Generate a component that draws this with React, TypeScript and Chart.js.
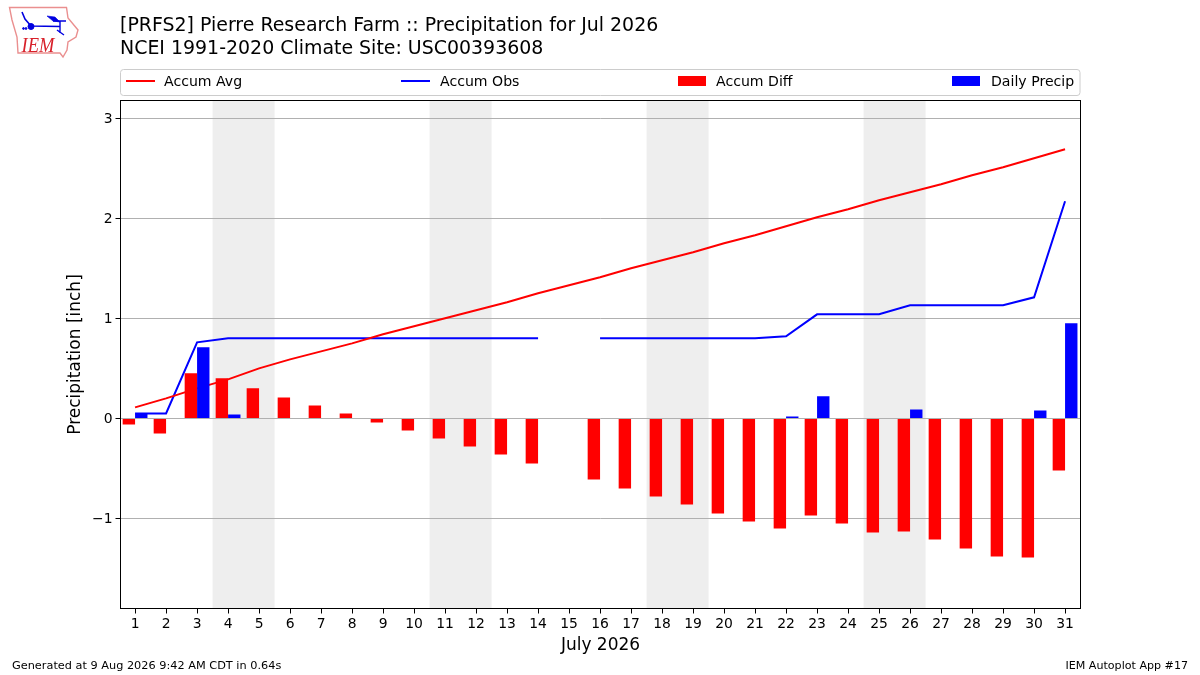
import { useEffect, useRef } from "react"
import { Chart, registerables } from "chart.js"

Chart.register(...registerables)

const FONT = "'DejaVu Sans'"

const DAYS = [1, 2, 3, 4, 5, 6, 7, 8, 9, 10, 11, 12, 13, 14, 15, 16, 17, 18, 19, 20, 21, 22, 23, 24, 25, 26, 27, 28, 29, 30, 31]

const ACCUM_AVG = [0.11, 0.2, 0.3, 0.39, 0.5, 0.59, 0.67, 0.75, 0.84, 0.92, 1.0, 1.08, 1.16, 1.25, 1.33, 1.41, 1.5, 1.58, 1.66, 1.75, 1.83, 1.92, 2.01, 2.09, 2.18, 2.26, 2.34, 2.43, 2.51, 2.6, 2.69]
const ACCUM_OBS = [0.05, 0.05, 0.76, 0.8, 0.8, 0.8, 0.8, 0.8, 0.8, 0.8, 0.8, 0.8, 0.8, 0.8, null, 0.8, 0.8, 0.8, 0.8, 0.8, 0.8, 0.82, 1.04, 1.04, 1.04, 1.13, 1.13, 1.13, 1.13, 1.21, 2.17]
const ACCUM_DIFF = [-0.06, -0.15, 0.45, 0.4, 0.3, 0.21, 0.13, 0.05, -0.04, -0.12, -0.2, -0.28, -0.36, -0.45, null, -0.61, -0.7, -0.78, -0.86, -0.95, -1.03, -1.1, -0.97, -1.05, -1.14, -1.13, -1.21, -1.3, -1.38, -1.39, -0.52]
const DAILY_PRECIP = [0.05, 0, 0.71, 0.04, 0, 0, 0, 0, 0, 0, 0, 0, 0, 0, null, 0, 0, 0, 0, 0, 0, 0.02, 0.22, 0, 0, 0.09, 0, 0, 0, 0.08, 0.95]

const Y_TICKS = [-1, 0, 1, 2, 3]
const WEEKENDS = [[3.5, 5.5], [10.5, 12.5], [17.5, 19.5], [24.5, 26.5]]

const TITLE_LINES = ["[PRFS2] Pierre Research Farm :: Precipitation for Jul 2026", "NCEI 1991-2020 Climate Site: USC00393608"]
const FOOTER_LEFT = "Generated at 9 Aug 2026 9:42 AM CDT in 0.64s"
const FOOTER_RIGHT = "IEM Autoplot App #17"

const toPoints = (values: (number | null)[]) => DAYS.map((d, i) => ({ x: d, y: values[i] }))

// shaded weekends sit under the grid lines
const weekendBands = {
  id: "weekendBands",
  beforeDraw(chart: any) {
    const { ctx, chartArea, scales } = chart
    ctx.save()
    ctx.fillStyle = "#eeeeee"
    WEEKENDS.forEach(([a, b]) => {
      const x0 = scales.x.getPixelForValue(a)
      const x1 = scales.x.getPixelForValue(b)
      ctx.fillRect(x0, chartArea.top, x1 - x0, chartArea.bottom - chartArea.top)
    })
    ctx.restore()
  },
}

// title, legend box, frame and footer are laid out like the matplotlib figure
const figureText = {
  id: "figureText",
  afterDraw(chart: any) {
    const { ctx, chartArea } = chart
    ctx.save()

    ctx.strokeStyle = "#000000"
    ctx.lineWidth = 1
    ctx.strokeRect(chartArea.left, chartArea.top, chartArea.right - chartArea.left, chartArea.bottom - chartArea.top)

    ctx.fillStyle = "#000000"
    ctx.textBaseline = "alphabetic"
    ctx.textAlign = "left"
    ctx.font = `18.95px ${FONT}`
    ctx.fillText(TITLE_LINES[0], 120, 31)
    ctx.fillText(TITLE_LINES[1], 120, 54)

    ctx.strokeStyle = "#cccccc"
    ctx.beginPath()
    ctx.roundRect(120.5, 69.5, 959.5, 26, 3)
    ctx.stroke()

    const handles = [
      { x: 126, text: 164 },
      { x: 401, text: 440 },
      { x: 678, text: 716 },
      { x: 952, text: 991 },
    ]
    ctx.font = `14.1px ${FONT}`
    chart.data.datasets.forEach((ds: any, i: number) => {
      const h = handles[i]
      ctx.fillStyle = ds.borderColor
      if (ds.type === "line") ctx.fillRect(h.x, 80, 29, 2)
      else ctx.fillRect(h.x, 76, 28, 10)
      ctx.fillStyle = "#000000"
      ctx.fillText(ds.label, h.text, 86)
    })

    ctx.font = `11.3px ${FONT}`
    ctx.fillText(FOOTER_LEFT, 12, 669)
    ctx.font = `11.1px ${FONT}`
    ctx.textAlign = "right"
    ctx.fillText(FOOTER_RIGHT, 1188, 669)
    ctx.restore()
  },
}

function Logo() {
  return (
    <svg width={90} height={64} style={{ position: "absolute", left: 0, top: 0 }}>
      <path
        d="M9.5 7.5 L66.5 7.5 L68 18 L78 30 L76 37 L68 42 L67 50 L63 57 L60 53 L18 53 L17 37 L12 20 Z"
        fill="#ffffff"
        stroke="#ea8f8f"
        strokeWidth={1.4}
      />
      <g stroke="#0000e0" fill="#0000e0">
        <path d="M22 12 L25 19 L31 26 L60 26.5" fill="none" strokeWidth={1.6} />
        <path d="M53 21 L66 21 M60 21 L60 33 M57 30 L64 35" fill="none" strokeWidth={1.4} />
        <path d="M47 16 L55 17 L60 22 L53 21 Z" strokeWidth={0.6} />
        <circle cx={31} cy={26.5} r={3} />
        <circle cx={23.5} cy={28.5} r={0.9} />
        <circle cx={26} cy={28.5} r={0.9} />
      </g>
      <text
        transform="translate(21.5,52) scale(0.88,1)"
        fontFamily="'Liberation Serif'"
        fontStyle="italic"
        fontSize={21}
        fill="#d8202a"
      >
        IEM
      </text>
    </svg>
  )
}

export default function App() {
  const canvasRef = useRef<HTMLCanvasElement | null>(null)

  useEffect(() => {
    if (!canvasRef.current) return

    const chart = new Chart(canvasRef.current, {
      type: "bar",
      data: {
        datasets: [
          { type: "line", label: "Accum Avg", data: toPoints(ACCUM_AVG), borderColor: "#ff0000", borderWidth: 2, pointRadius: 0, tension: 0, order: 2 },
          { type: "line", label: "Accum Obs", data: toPoints(ACCUM_OBS), borderColor: "#0000ff", borderWidth: 2, pointRadius: 0, tension: 0, spanGaps: false, order: 2 },
          { type: "bar", label: "Accum Diff", data: toPoints(ACCUM_DIFF), backgroundColor: "#ff0000", borderColor: "#ff0000", borderWidth: 0, categoryPercentage: 0.8, barPercentage: 1, order: 1 },
          { type: "bar", label: "Daily Precip", data: toPoints(DAILY_PRECIP), backgroundColor: "#0000ff", borderColor: "#0000ff", borderWidth: 0, categoryPercentage: 0.8, barPercentage: 1, order: 1 },
        ] as any,
      },
      options: {
        responsive: false,
        animation: false,
        layout: { padding: { top: 100.5, right: 119.5, bottom: 19.5, left: 65 } },
        plugins: { legend: { display: false }, title: { display: false }, tooltip: { enabled: false } },
        scales: {
          x: {
            type: "linear",
            offset: false,
            min: 0.53,
            max: 31.498,
            afterFit: (s: any) => { s.height = 47 },
            afterBuildTicks: (s: any) => { s.ticks = DAYS.map((value) => ({ value })) },
            grid: { offset: false, drawOnChartArea: false, color: "#000000", tickColor: "#000000", tickLength: 5 },
            border: { display: false },
            ticks: { autoSkip: false, maxRotation: 0, color: "#000000", padding: 3, font: { family: FONT, size: 13.9 }, callback: (v: any) => String(v) },
            title: { display: true, text: "July 2026", color: "#000000", font: { family: FONT, size: 17 }, padding: { top: 4, bottom: 0 } },
          },
          y: {
            min: -1.9,
            max: 3.177,
            afterFit: (s: any) => { s.width = 55.5 },
            afterBuildTicks: (s: any) => { s.ticks = Y_TICKS.map((value) => ({ value })) },
            grid: { color: "#b0b0b0", tickColor: "#000000", tickLength: 5, lineWidth: 1 },
            border: { display: false },
            ticks: { color: "#000000", padding: 3, labelOffset: 1, font: { family: FONT, size: 13.9 }, callback: (v: any) => String(v).replace("-", "\u2212") },
            title: { display: true, text: "Precipitation [inch]", color: "#000000", font: { family: FONT, size: 17 }, padding: { top: 0, bottom: 8 } },
          },
        },
      },
      plugins: [weekendBands, figureText],
    } as any)

    return () => {
      chart.destroy()
    }
  }, [])

  return (
    <div style={{ position: "absolute", left: 0, top: 0, width: 1200, height: 675, background: "#ffffff" }}>
      <canvas ref={canvasRef} width={1200} height={675} style={{ display: "block" }} />
      <Logo />
    </div>
  )
}
